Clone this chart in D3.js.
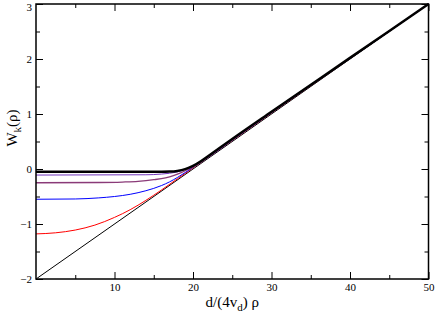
<!DOCTYPE html>
<html>
<head>
<meta charset="utf-8">
<script src="https://cdn.jsdelivr.net/npm/d3@7"></script>
<style>
  body { margin: 0; background: #fff; }
  svg { display: block; }
  text { font-family: "Liberation Serif", "Times New Roman", Times, serif; }
</style>
</head>
<body>
<svg></svg>
<script>
const width = 436;
const height = 314;

// values, [x, W]
const lineRef = [[0, -2], [50, 3]];
const redCurve = [[0, -1.18], [2.5, -1.16], [5, -1.11], [7.5, -1.02], [10, -0.88], [12, -0.74], [14, -0.57], [16, -0.38], [18, -0.18], [20, 0.02], [22, 0.22], [25, 0.52], [30, 1.02], [40, 2.01], [50, 3]];
const blueCurve = [[0, -0.55], [5, -0.545], [8, -0.525], [10, -0.5], [12, -0.46], [14, -0.395], [16, -0.3], [17, -0.235], [18, -0.155], [19, -0.065], [20, 0.03], [21, 0.125], [22, 0.22], [25, 0.525], [30, 1.025], [40, 2.012], [50, 3]];
const maroonCurve = [[0, -0.25], [8, -0.245], [11, -0.237], [13, -0.225], [15, -0.195], [16.5, -0.16], [17.5, -0.12], [18.5, -0.065], [19.5, 0.0], [20.5, 0.075], [22, 0.225], [25, 0.53], [30, 1.03], [40, 2.015], [50, 3]];
const purpleCurve = [[0, -0.11], [14, -0.105], [16, -0.092], [17, -0.078], [18, -0.052], [19, -0.01], [20, 0.055], [21, 0.14], [22, 0.235], [25, 0.535], [30, 1.035], [40, 2.018], [50, 3]];
const blackCurve = [[0, -0.05], [16, -0.05], [17, -0.047], [18, -0.035], [19, -0.003], [20, 0.055], [21, 0.14], [22, 0.24], [25, 0.545], [30, 1.04], [40, 2.02], [50, 3]];

const xTicks = [10, 20, 30, 40, 50];
const yTicks = [-2, -1, 0, 1, 2, 3];

const margin = { left: 36, right: 7.5, top: 4, bottom: 35 };

const xScale = d3.scaleLinear().domain([0, 50]).range([margin.left, width - margin.right]);
const yScale = d3.scaleLinear().domain([-2, 3]).range([height - margin.bottom, margin.top]);

const svg = d3.select('svg').attr('width', width).attr('height', height);

const line = d3.line()
  .x(d => xScale(d[0]))
  .y(d => yScale(d[1]))
  .curve(d3.curveMonotoneX);

const curves = [
  { data: lineRef, color: '#000', w: 1 },
  { data: redCurve, color: '#ff0000', w: 1 },
  { data: blueCurve, color: '#0000ff', w: 1 },
  { data: maroonCurve, color: '#8a3a78', w: 1.3 },
  { data: purpleCurve, color: '#7236bc', w: 1 },
  { data: blackCurve, color: '#000', w: 2.5 }
];

svg.append('g').selectAll('path')
  .data(curves)
  .enter()
  .append('path')
  .attr('d', d => line(d.data))
  .attr('fill', 'none')
  .attr('stroke', d => d.color)
  .attr('stroke-width', d => d.w);

// axes, ticks pointing inward on all four sides
const x0 = xScale.range()[0], x1 = xScale.range()[1];
const y0 = yScale.range()[0], y1 = yScale.range()[1];

const bottomAxis = d3.axisBottom(xScale).tickValues(xTicks).tickSize(-7).tickPadding(4).tickFormat(d3.format('d'));
const bottomMinor = d3.axisBottom(xScale).tickValues(d3.range(5, 50, 10)).tickSize(-4).tickFormat('');
const topAxis = d3.axisTop(xScale).tickValues(xTicks).tickSize(-7).tickFormat('');
const topMinor = d3.axisTop(xScale).tickValues(d3.range(5, 50, 10)).tickSize(-4).tickFormat('');
const leftAxis = d3.axisLeft(yScale).tickValues(yTicks).tickSize(-7).tickPadding(4).tickFormat(d3.format('d'));
const leftMinor = d3.axisLeft(yScale).tickValues(d3.range(-1.5, 3, 1)).tickSize(-4).tickFormat('');
const rightAxis = d3.axisRight(yScale).tickValues(yTicks).tickSize(-7).tickFormat('');
const rightMinor = d3.axisRight(yScale).tickValues(d3.range(-1.5, 3, 1)).tickSize(-4).tickFormat('');

const addAxis = (axis, tx, ty) => {
  const g = svg.append('g').attr('transform', `translate(${tx}, ${ty})`).call(axis);
  g.select('.domain').remove();
  g.attr('font-family', null).attr('font-size', null);
  g.selectAll('text').style('font-size', '11px').attr('fill', '#000');
  g.selectAll('line').attr('stroke', '#000');
  return g;
};

addAxis(bottomAxis, 0, y0);
addAxis(bottomMinor, 0, y0);
addAxis(topAxis, 0, y1);
addAxis(topMinor, 0, y1);
const leftG = addAxis(leftAxis, x0, 0);
addAxis(leftMinor, x0, 0);
addAxis(rightAxis, x1, 0);
addAxis(rightMinor, x1, 0);

// top label sits at the very edge, nudge it so it stays inside the page
leftG.selectAll('.tick text').filter(d => d === 3).attr('dy', '0.55em');

svg.append('rect')
  .attr('x', x0).attr('y', y1)
  .attr('width', x1 - x0).attr('height', y0 - y1)
  .attr('fill', 'none')
  .attr('stroke', '#000')
  .attr('stroke-width', 1.5);

// axis titles
const xTitle = svg.append('text')
  .attr('x', (x0 + x1) / 2)
  .attr('y', 307)
  .attr('text-anchor', 'middle')
  .style('font-size', '15px');
xTitle.append('tspan').text('d/(4v');
xTitle.append('tspan').attr('dy', 4).style('font-size', '11px').text('d');
xTitle.append('tspan').attr('dy', -4).text(') ρ');

const yTitle = svg.append('text')
  .attr('transform', 'translate(17, 128) rotate(-90)')
  .attr('text-anchor', 'middle')
  .style('font-size', '15px');
yTitle.append('tspan').text('W');
yTitle.append('tspan').attr('dy', 4).style('font-size', '11px').text('k');
yTitle.append('tspan').attr('dy', -4).text('(ρ)');
</script>
</body>
</html>
